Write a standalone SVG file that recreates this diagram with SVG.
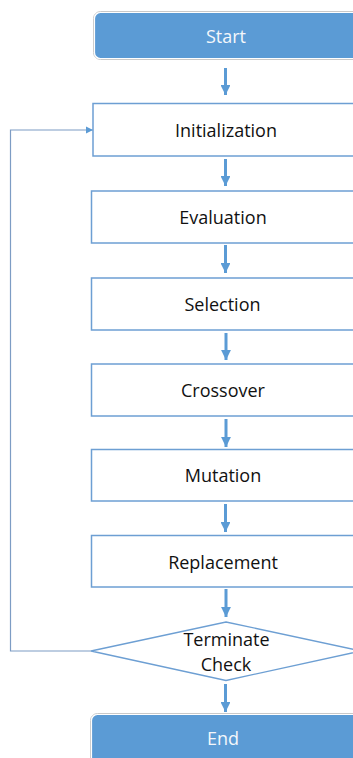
<svg xmlns="http://www.w3.org/2000/svg" width="353" height="758" viewBox="0 0 353 758">
  <style>
    .lbl { font-family: "Open Sans", "Noto Sans", "Liberation Sans", sans-serif; font-size: 18px; fill: #111111; text-anchor: middle; }
    .lbl-w { fill: #f4f7fb; }
    .step { fill: #ffffff; stroke: #6d9fd3; stroke-width: 1.5; }
    .term { fill: #5b9bd5; stroke: #ffffff; stroke-width: 1.2; }
    .term-ring { fill: none; stroke: #c9c9c9; stroke-width: 1; }
    .flow { stroke: #5b9bd5; stroke-width: 3; fill: none; }
    .loop { stroke: #7d9cc4; stroke-width: 1.2; fill: none; }
  </style>
  <defs>
    <marker id="head" viewBox="0 0 10 10" refX="10" refY="5" markerWidth="3.3" markerHeight="3.3" orient="auto" markerUnits="strokeWidth">
      <path d="M0,0 L10,5 L0,10 Z" fill="#5b9bd5"/>
    </marker>
    <marker id="head-thin" viewBox="0 0 10 10" refX="10" refY="5" markerWidth="6" markerHeight="6" orient="auto" markerUnits="strokeWidth">
      <path d="M0,0 L10,5 L0,10 Z" fill="#5b9bd5"/>
    </marker>
  </defs>

  <!-- connectors -->
  <g id="connectors">
    <line class="flow" x1="225.5" y1="68" x2="225.5" y2="95" marker-end="url(#head)"/>
    <line class="flow" x1="225.5" y1="159" x2="225.5" y2="186" marker-end="url(#head)"/>
    <line class="flow" x1="225.5" y1="245" x2="225.5" y2="273" marker-end="url(#head)"/>
    <line class="flow" x1="226" y1="333" x2="226" y2="360" marker-end="url(#head)"/>
    <line class="flow" x1="226" y1="419" x2="226" y2="447" marker-end="url(#head)"/>
    <line class="flow" x1="225.5" y1="504" x2="225.5" y2="532" marker-end="url(#head)"/>
    <line class="flow" x1="226" y1="589" x2="226" y2="617" marker-end="url(#head)"/>
    <line class="flow" x1="225.5" y1="684" x2="225.5" y2="712" marker-end="url(#head)"/>
    <!-- loop back from the check to initialization -->
    <path class="loop" d="M91,651 H10.5 V130 H93" marker-end="url(#head-thin)"/>
  </g>

  <g id="start">
    <rect class="term-ring" x="93.5" y="11.5" width="270" height="48" rx="7"/>
    <rect class="term" x="94.5" y="12.5" width="268" height="46" rx="6"/>
    <text class="lbl lbl-w" x="226" y="42.5">Start</text>
  </g>

  <g id="initialization">
    <rect class="step" x="93" y="103.5" width="270" height="52.5"/>
    <text class="lbl" x="226" y="136.5">Initialization</text>
  </g>

  <g id="evaluation">
    <rect class="step" x="91.5" y="191" width="270" height="52"/>
    <text class="lbl" x="223" y="224">Evaluation</text>
  </g>

  <g id="selection">
    <rect class="step" x="91.5" y="278" width="270" height="52"/>
    <text class="lbl" x="222.5" y="311">Selection</text>
  </g>

  <g id="crossover">
    <rect class="step" x="91.5" y="364" width="270" height="52"/>
    <text class="lbl" x="223" y="397">Crossover</text>
  </g>

  <g id="mutation">
    <rect class="step" x="91.5" y="449.5" width="270" height="51.5"/>
    <text class="lbl" x="223" y="482">Mutation</text>
  </g>

  <g id="replacement">
    <rect class="step" x="91.5" y="535.5" width="270" height="51.5"/>
    <text class="lbl" x="223" y="569">Replacement</text>
  </g>

  <g id="terminate-check">
    <polygon points="226,622 361,651 226,680.5 91,651" fill="#ffffff" stroke="#6d9fd3" stroke-width="1.3"/>
    <text class="lbl" x="226.5" y="646">Terminate</text>
    <text class="lbl" x="226" y="670.5">Check</text>
  </g>

  <g id="end">
    <rect class="term-ring" x="90.5" y="713.5" width="272" height="60" rx="7"/>
    <rect class="term" x="91.5" y="714.5" width="270" height="58" rx="6"/>
    <text class="lbl lbl-w" x="223" y="745">End</text>
  </g>
</svg>
